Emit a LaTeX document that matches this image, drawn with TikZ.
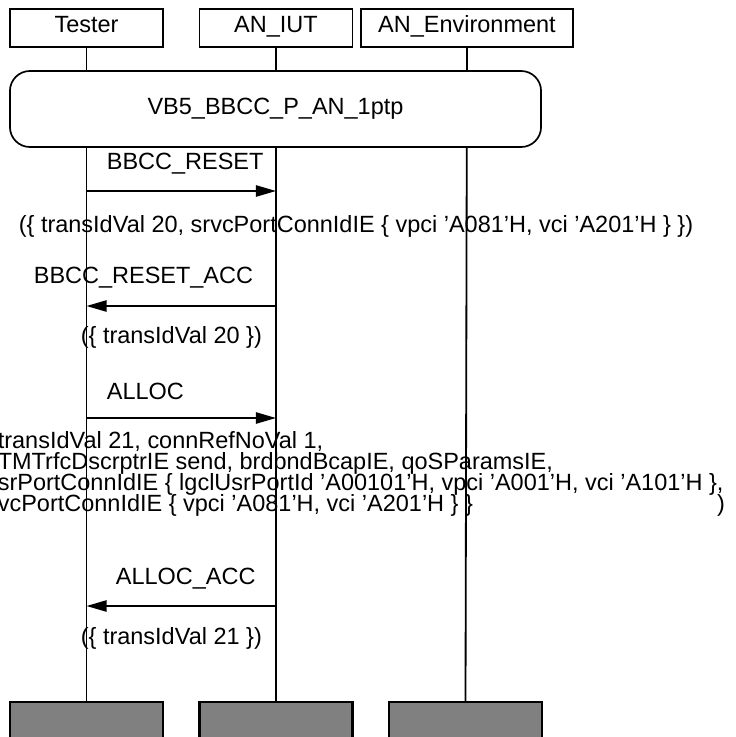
\documentclass[tikz,border=0pt]{standalone}
\usepackage{fontspec}
\setmainfont{Liberation Sans}
\usetikzlibrary{positioning,arrows.meta}
\newcommand{\msgfont}{\fontsize{16.7}{14.9}\selectfont\lineskiplimit=-20pt\relax}

\begin{document}
\begin{tikzpicture}[
    x=0.025cm, y=-0.025cm,
    font=\msgfont,
    line width=1.2pt,
    >={Triangle[length=0.5cm,width=0.28cm]},
    inst/.style={draw, minimum width=3.825cm, minimum height=0.95cm, inner sep=0pt, text height=1.6ex, text depth=0.5ex},
    endbox/.style={draw, fill=black!50, line width=1.5pt, minimum width=3.825cm, minimum height=1.2cm, anchor=north, inner sep=0pt},
    refbox/.style={draw, fill=white, rounded corners=0.5cm, minimum width=13.275cm, minimum height=1.9cm, inner sep=0pt},
    lbl/.style={inner sep=0pt, anchor=west},
    life/.style={line width=1.3pt},
  ]
    \useasboundingbox (0,0) rectangle (736,737);
    \clip (0,0) rectangle (736,737);

    % ---------- instances ----------
    \node[inst] (tester) at (86.5,28)  {Tester};
    \node[inst] (iut)    at (276,28)   {AN\_IUT};
    \node[inst, minimum width=5.3cm] (env) at (467,28) {AN\_Environment};

    \node[endbox] (testerend) at (86.5,701) {};
    \node[endbox] (iutend)    at (276,701)  {};
    \node[endbox] (envend)    at (465.5,701) {};

    \foreach \a/\b in {tester/testerend, iut/iutend, env/envend} \draw[life] (\a.south) -- (\b.north);

    % ---------- reference ----------
    \node[refbox] (ref) at (275.5,109) {VB5\_BBCC\_P\_AN\_1ptp};

    % ---------- messages ----------
    \coordinate (m1) at (0,191);
    \coordinate (m2) at (0,306);
    \coordinate (m3) at (0,418);
    \coordinate (m4) at (0,606);

    \draw[->] (tester |- m1) -- (iut |- m1);
    \draw[->] (iut |- m2) -- (tester |- m2);
    \draw[->] (tester |- m3) -- (iut |- m3);
    \draw[->] (iut |- m4) -- (tester |- m4);

    \node[lbl] (reset)    at (106,164) {BBCC\_RESET};
    \node[lbl] (resetpar) at (18,226)  {(\{ transIdVal 20, srvcPortConnIdIE \{ vpci 'A081'H, vci 'A201'H \} \})};
    \node[lbl] (resetacc) at (33,278)  {BBCC\_RESET\_ACC};
    \node[lbl] (resetaccpar) at (80,337) {(\{ transIdVal 20 \})};
    \node[lbl] (alloc)    at (106,391) {ALLOC};
    \node[lbl, anchor=north west, align=left] (allocpar) at (-3,431)
      {\llap{(\{ }transIdVal 21, connRefNoVal 1,\\
       \llap{a}TMTrfcDscrptrIE send, brdbndBcapIE, qoSParamsIE,\\
       \llap{u}srPortConnIdIE \{ lgclUsrPortId 'A00101'H, vpci 'A001'H, vci 'A101'H \},\\
       \llap{sr}vcPortConnIdIE \{ vpci 'A081'H, vci 'A201'H \} \}\hspace{6.1cm})};
    \node[lbl] (allocacc) at (115,579) {ALLOC\_ACC};
    \node[lbl] (allocaccpar) at (80,638) {(\{ transIdVal 21 \})};
  \end{tikzpicture}
\end{document}
